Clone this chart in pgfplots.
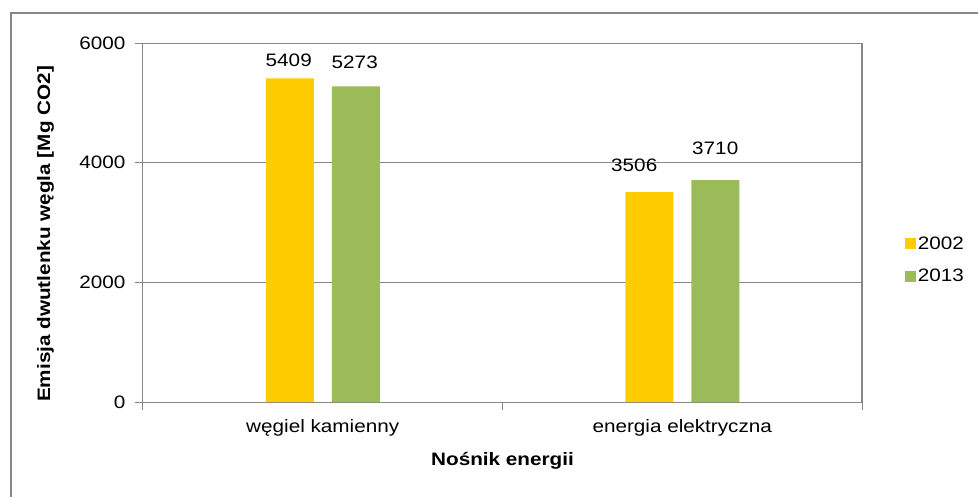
\documentclass[border=0pt]{standalone}
\usepackage{pgfplots}
\pgfplotsset{compat=1.18}
\usepackage{fontspec}
\setmainfont{Liberation Sans}[FakeStretch=1.15]
\definecolor{ygold}{HTML}{FFCC00}
\definecolor{ggreen}{HTML}{9BBB59}
\definecolor{axgray}{HTML}{878787}
\pgfplotstableread{
x y off xo
0 5409 18 -1
1 3506 27 -15
}\tabA
\pgfplotstableread{
x y off xo
0 5273 24.5 -1
1 3710 32 0
}\tabB
\newcommand{\fs}{\fontsize{18}{21}\selectfont}
\begin{document}
\begin{tikzpicture}[font=\fs]
\useasboundingbox (0,0) rectangle (978pt,496pt);
\draw[axgray, line width=2pt] (11pt,-5pt) -- (11pt,482.5pt) -- (990pt,482.5pt);
\begin{axis}[
  at={(143pt,94pt)}, anchor=south west,
  scale only axis, width=719pt, height=359pt,
  xmin=-0.5, xmax=1.5, ymin=0, ymax=6000,
  ybar=18pt, bar width=48pt,
  axis line style={axgray, line width=1pt},
  every tick/.style={axgray, line width=1pt},
  tick align=outside, major tick length=8pt,
  xtick pos=bottom, ytick pos=left,
  xtick={-0.5,0.5,1.5}, xticklabels={},
  extra x ticks={0,1},
  extra x tick labels={w\k{e}giel kamienny, energia elektryczna},
  extra x tick style={major tick length=0pt, xticklabel style={anchor=base, yshift=-30pt}},
  ytick={0,2000,4000,6000},
  ymajorgrids, grid style={axgray, line width=1pt},
  /pgf/number format/assume math mode=true,
  /pgf/number format/.cd, 1000 sep={}, /pgfplots/.cd,
  tick label style={font=\fs, black},
  yticklabel style={anchor=east, xshift=-6pt},
  every axis y label/.style={at={(axis description cs:-0.1356,0.468)}, rotate=90, anchor=center, font=\bfseries\fs},
  every axis x label/.style={at={(axis description cs:0.5,-0.1755)}, anchor=base, font=\bfseries\fs},
  ylabel={Emisja dwutlenku w\k{e}gla [Mg CO2]},
  xlabel={No\'snik energii},
  nodes near coords,
  nodes near coords style={font=\fs, black, anchor=center},
  visualization depends on={\thisrow{off} \as \offy},
  visualization depends on={\thisrow{xo} \as \offx},
  every node near coord/.append style={yshift=\offy pt, xshift=\offx pt},
  legend style={at={(axis description cs:1.056,0.3955)}, anchor=west, draw=none, fill=none, font=\fs,
    row sep=14pt, nodes={inner xsep=1.5pt}},
  legend cell align=left,
  legend image code/.code={\fill[#1] (0pt,-5.5pt) rectangle (11pt,5.5pt);},
  extra description/.code={\draw[axgray, line width=1.2pt] (rel axis cs:1,0) -- (rel axis cs:1,1);},
]
\addplot[fill=ygold, draw=none] table[x=x, y=y] {\tabA};
\addplot[fill=ggreen, draw=none] table[x=x, y=y] {\tabB};
\legend{2002, 2013}
\end{axis}
\end{tikzpicture}
\end{document}
